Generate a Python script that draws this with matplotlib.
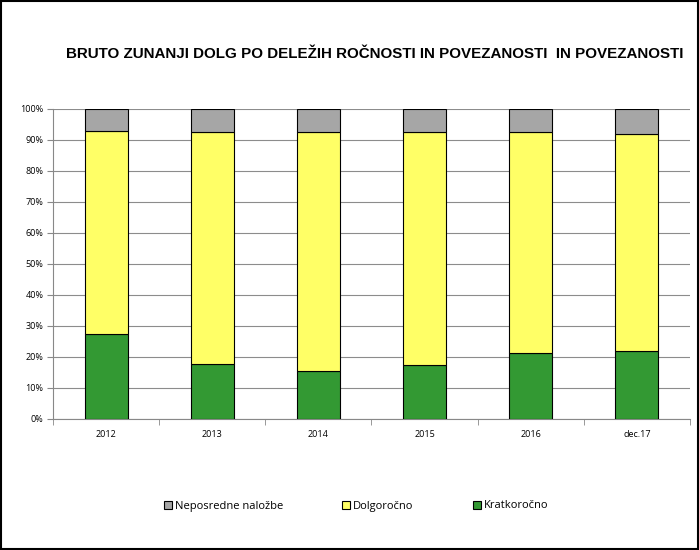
import matplotlib.pyplot as plt
import numpy as np

years = ['2012', '2013', '2014', '2015', '2016', 'dec.17']
kratkorocno = [27.3, 17.7, 15.3, 17.2, 21.1, 21.8]
dolgorocno = [65.6, 74.7, 77.1, 75.2, 71.3, 70.0]
neposredne = [7.1, 7.6, 7.6, 7.6, 7.6, 8.2]

plt.rcParams['font.family'] = ['Open Sans', 'DejaVu Sans']

fig = plt.figure(figsize=(6.99, 5.5), dpi=100)
ax = fig.add_axes([53 / 699, 131.3 / 550, 637 / 699, 310 / 550])

x = np.arange(len(years))
w = 0.405
k = np.array(kratkorocno)
d = np.array(dolgorocno)
n = np.array(neposredne)
b1 = ax.bar(x, k, w, color='#339933', edgecolor='black', linewidth=0.8, zorder=3, label='Kratkoročno')
b2 = ax.bar(x, d, w, bottom=k, color='#FFFF66', edgecolor='black', linewidth=0.8, zorder=3, label='Dolgoročno')
b3 = ax.bar(x, n, w, bottom=k + d, color='#A6A6A6', edgecolor='black', linewidth=0.8, zorder=3, label='Neposredne naložbe')

ax.set_xlim(-0.5, len(years) - 0.5)
ax.set_ylim(0, 100)
ax.set_yticks(np.arange(0, 101, 10))
ax.set_yticklabels(['%d%%' % v for v in range(0, 101, 10)], fontsize=6.5)
ax.yaxis.grid(True, color='#8c8c8c', linewidth=0.8, zorder=0)

ax.set_xticks(x)
ax.set_xticklabels(years, fontsize=6.5)
ax.tick_params(axis='x', length=0, pad=8)
ax.set_xticks(np.arange(-0.5, len(years)), minor=True)
ax.tick_params(axis='x', which='minor', length=4, color='#888888', direction='out')
ax.tick_params(axis='y', length=4, color='#888888', direction='out', pad=3)

for s in ['top', 'right']:
    ax.spines[s].set_visible(False)
ax.spines['left'].set_color('#888888')
ax.spines['bottom'].set_color('#888888')

fig.text(375 / 699, 1 - 54 / 550, 'BRUTO ZUNANJI DOLG PO DELEŽIH ROČNOSTI IN POVEZANOSTI  IN POVEZANOSTI',
         ha='center', va='center', fontsize=10.9, fontweight='bold', family='Liberation Sans')

fig.legend(handles=[b3, b2, b1], labels=['Neposredne naložbe', 'Dolgoročno', 'Kratkoročno'],
           loc='center', bbox_to_anchor=(356 / 699, 1 - 506 / 550), ncol=3, frameon=False,
           fontsize=8, handlelength=0.75, handleheight=0.75, handletextpad=0.25, columnspacing=5.3)

fig.patches.append(plt.Rectangle((0.001, 0.001), 0.997, 0.997, transform=fig.transFigure,
                                 fill=False, edgecolor='black', linewidth=1.5))

fig.savefig('out.png', dpi=100)
